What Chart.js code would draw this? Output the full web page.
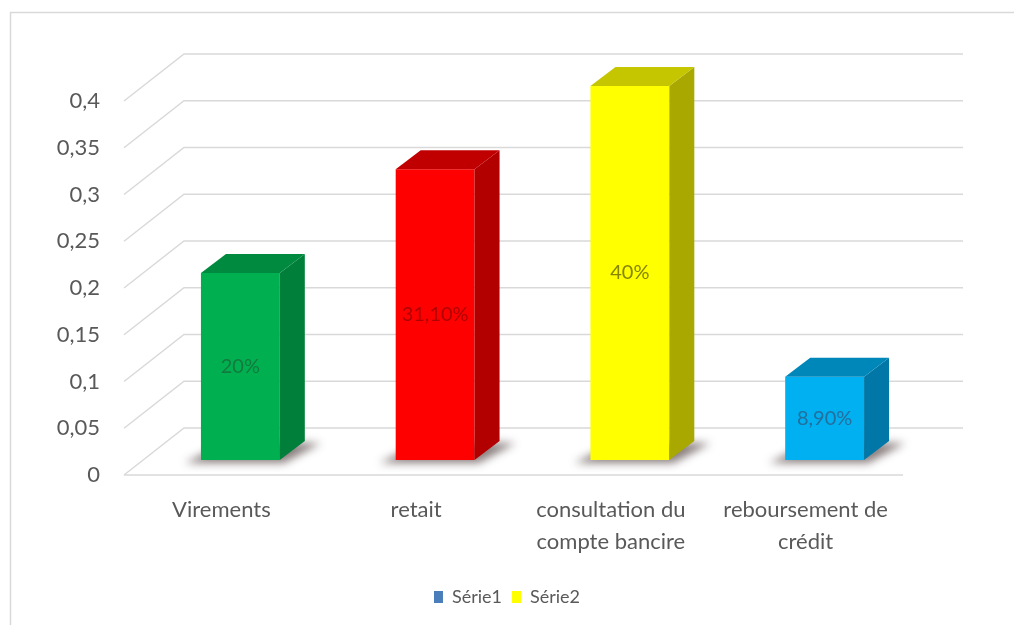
<!DOCTYPE html>
<html>
<head>
<meta charset="utf-8">
<title>Services utilisés</title>
<script src="https://cdn.jsdelivr.net/npm/chart.js@4.4.1/dist/chart.umd.min.js"></script>
<style>
  html, body { margin: 0; padding: 0; background: #fff; }
  canvas { display: block; }
</style>
</head>
<body>
<canvas id="servicesChart" width="1014" height="625"></canvas>
<script>
// categories and values
const categories = ['Virements', 'retait', ['consultation du', 'compte bancire'], ['reboursement de', 'crédit']];
const serie1 = [0.2, 0.311, 0.4, 0.089];
const serie2 = [null, null, null, null];
const seriesNames = ['Série1', 'Série2'];
const yTickStep = 0.05;
const yMax = 0.4;

// colours per bar: front, side, top, value label
const frontColors = ['#00b050', '#ff0000', '#ffff00', '#00b0f0'];
const sideColors = ['#007f3a', '#b20000', '#a8a800', '#0077a6'];
const topColors = ['#008a3f', '#c00000', '#c6c600', '#0087ba'];
const valueColors = ['#127a3e', '#b00000', '#858500', '#236f9e'];
const legendColors = ['#4a7ebb', '#ffff00'];

const gridColor = '#d9d9d9';
const textColor = '#595959';
const fontFamily = 'Lato, "Open Sans", sans-serif';

// 3D offsets relative to the bar front plane (px)
const FLOOR = { dx: -19, dy: 15 };
const DEPTH = { dx: 25, dy: -19 };
const WALL = { dx: 41, dy: -32 };

function fmtNum(v) {
    return Number(v.toFixed(2)).toString().replace('.', ',');
}

function fmtPct(v) {
    const p = Math.round(v * 10000) / 100;
    const s = Number.isInteger(p) ? p.toString() : p.toFixed(2);
    return s.replace('.', ',') + '%';
}

const frame = {
    id: 'frame',
    beforeDraw(chart) {
        const ctx = chart.ctx;
        ctx.save();
        ctx.strokeStyle = gridColor;
        ctx.lineWidth = 1.5;
        ctx.beginPath();
        ctx.moveTo(10.5, 640);
        ctx.lineTo(10.5, 12.5);
        ctx.lineTo(1014, 12.5);
        ctx.stroke();
        ctx.restore();
    }
};

const box3d = {
    id: 'box3d',
    beforeDatasetsDraw(chart) {
        const { ctx, chartArea: { left, right } } = chart;
        const y = chart.scales.y;
        const y0 = y.getPixelForValue(0);
        ctx.save();
        ctx.strokeStyle = gridColor;
        ctx.lineWidth = 1.5;
        y.ticks.forEach(t => {
            const py = y.getPixelForValue(t.value);
            ctx.beginPath();
            ctx.moveTo(left + FLOOR.dx, py + FLOOR.dy);
            ctx.lineTo(left + WALL.dx, py + WALL.dy);
            ctx.lineTo(right + WALL.dx, py + WALL.dy);
            ctx.stroke();
        });
        // front edge of the floor
        ctx.beginPath();
        ctx.moveTo(left + FLOOR.dx, y0 + FLOOR.dy);
        ctx.lineTo(right + FLOOR.dx, y0 + FLOOR.dy);
        ctx.stroke();

        // soft shadows under the bars
        ctx.filter = 'blur(4px)';
        ctx.fillStyle = 'rgba(60, 40, 40, 0.6)';
        chart.getDatasetMeta(0).data.forEach(bar => {
            const l = bar.x - bar.width / 2, r = bar.x + bar.width / 2, b = bar.base;
            ctx.beginPath();
            ctx.moveTo(l - 16, b + 3);
            ctx.lineTo(r + 4, b + 3);
            ctx.lineTo(r + DEPTH.dx + 16, b + DEPTH.dy + 2);
            ctx.lineTo(l + DEPTH.dx, b + DEPTH.dy + 2);
            ctx.closePath();
            ctx.fill();
        });
        ctx.restore();
    },
    afterDatasetsDraw(chart) {
        const ctx = chart.ctx;
        ctx.save();
        chart.getDatasetMeta(0).data.forEach((bar, i) => {
            const l = bar.x - bar.width / 2, r = bar.x + bar.width / 2;
            const top = bar.y, b = bar.base;
            // side face
            ctx.fillStyle = sideColors[i];
            ctx.beginPath();
            ctx.moveTo(r, top);
            ctx.lineTo(r + DEPTH.dx, top + DEPTH.dy);
            ctx.lineTo(r + DEPTH.dx, b + DEPTH.dy);
            ctx.lineTo(r, b);
            ctx.closePath();
            ctx.fill();
            // top face
            ctx.fillStyle = topColors[i];
            ctx.beginPath();
            ctx.moveTo(l, top);
            ctx.lineTo(l + DEPTH.dx, top + DEPTH.dy);
            ctx.lineTo(r + DEPTH.dx, top + DEPTH.dy);
            ctx.lineTo(r, top);
            ctx.closePath();
            ctx.fill();
            // value label
            ctx.fillStyle = valueColors[i];
            ctx.font = '20px ' + fontFamily;
            ctx.textAlign = 'center';
            ctx.textBaseline = 'middle';
            ctx.fillText(fmtPct(serie1[i]), bar.x, (top + b) / 2);
        });
        ctx.restore();
    }
};

new Chart(document.getElementById('servicesChart'), {
    type: 'bar',
    data: {
        labels: categories,
        datasets: [{
            label: seriesNames[0],
            data: serie1,
            backgroundColor: frontColors,
            borderWidth: 0
        }, {
            label: seriesNames[1],
            data: serie2,
            backgroundColor: legendColors[1],
            borderWidth: 0
        }]
    },
    options: {
        responsive: false,
        animation: false,
        grouped: false,
        categoryPercentage: 1,
        barPercentage: 0.405,
        layout: { padding: { left: 0, right: 0, top: 86, bottom: 9 } },
        scales: {
            x: {
                grid: { display: false, drawTicks: false },
                border: { display: false },
                ticks: {
                    color: textColor,
                    font: { family: fontFamily, size: 22, lineHeight: 1.45 },
                    padding: 34,
                    labelOffset: -19,
                    maxRotation: 0,
                    autoSkip: false
                },
                afterFit(scale) { scale.height = 118; }
            },
            y: {
                min: 0,
                max: yMax,
                grid: { display: false, drawTicks: false },
                border: { display: false },
                ticks: {
                    stepSize: yTickStep,
                    color: textColor,
                    font: { family: fontFamily, size: 22 },
                    padding: 43,
                    labelOffset: 15,
                    callback: v => fmtNum(v)
                },
                afterFit(scale) { scale.width = 143; }
            },
            // empty right-hand margin that leaves room for the back wall
            yRight: {
                position: 'right',
                grid: { display: false, drawTicks: false },
                border: { display: false },
                ticks: { display: false },
                afterFit(scale) { scale.width = 92; }
            }
        },
        plugins: {
            tooltip: { enabled: false },
            legend: {
                position: 'bottom',
                labels: {
                    color: textColor,
                    font: { family: fontFamily, size: 18 },
                    boxWidth: 9,
                    boxHeight: 12,
                    padding: 10,
                    generateLabels: () => seriesNames.map((name, i) => ({
                        text: name,
                        fillStyle: legendColors[i],
                        strokeStyle: legendColors[i],
                        lineWidth: 0,
                        fontColor: textColor,
                        hidden: false,
                        datasetIndex: i
                    }))
                }
            }
        }
    },
    plugins: [frame, box3d]
});
</script>
</body>
</html>
